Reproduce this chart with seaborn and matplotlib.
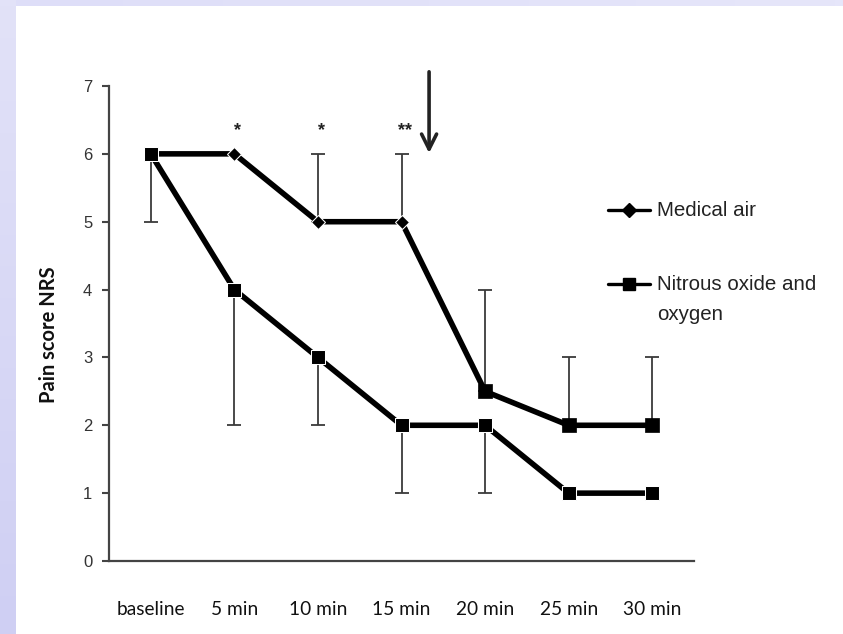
import numpy as np
import pandas as pd
import matplotlib
matplotlib.use("Agg")
import matplotlib.pyplot as plt
from matplotlib.lines import Line2D
import seaborn as sns

# Pain scores (NRS) over time
time_labels = ["baseline", "5 min", "10 min", "15 min", "20 min", "25 min", "30 min"]
medical_air = [6, 6, 5, 5, 2.5, 2, 2]
nitrous_oxide = [6, 4, 3, 2, 2, 1, 1]
# one-sided spread: upward for medical air, downward for nitrous oxide
medical_air_upper = [np.nan, np.nan, 1, 1, 1.5, 1, 1]
nitrous_oxide_lower = [1, 2, 1, 1, 1, np.nan, np.nan]
# significance marks
sig_positions = [1, 2, 3]
sig_marks = ["*", "*", "**"]
sig_height = 6.35

sns.set_theme(style="white")
plt.rcParams["font.family"] = ["Liberation Sans", "DejaVu Sans"]

x = np.arange(len(time_labels))
df = pd.DataFrame({"pos": x, "air": medical_air, "n2o": nitrous_oxide,
                   "air_up": medical_air_upper, "n2o_lo": nitrous_oxide_lower})

fig = plt.figure(figsize=(8.43, 6.34), dpi=100)
fig.patch.set_facecolor("white")

# lavender slide frame along the left and top edges
grad = fig.add_axes([0, 0, 16 / 843, 1], zorder=-5)
grad.imshow(np.linspace(0, 1, 100).reshape(-1, 1), aspect="auto",
            cmap=matplotlib.colors.LinearSegmentedColormap.from_list(
                "lav", ["#e2e2f8", "#cfcff3"]), extent=[0, 1, 0, 1], origin="upper")
grad.axis("off")
top = fig.add_axes([16 / 843, 1 - 6 / 634, 1 - 16 / 843, 6 / 634], zorder=-5)
top.imshow(np.linspace(0, 1, 100).reshape(1, -1), aspect="auto",
           cmap=matplotlib.colors.LinearSegmentedColormap.from_list(
               "lav2", ["#dedef8", "#e6e6fa"]), extent=[0, 1, 0, 1])
top.axis("off")

ax = fig.add_axes([109 / 843, 1 - 561 / 634, 585 / 843, 475 / 634])
ax.set_facecolor("white")

# error bars (behind the lines)
m = ~df["air_up"].isna()
ax.errorbar(df.loc[m, "pos"], df.loc[m, "air"],
            yerr=[np.zeros(m.sum()), df.loc[m, "air_up"]],
            fmt="none", ecolor="#3a3a3a", elinewidth=1.3, capsize=5, capthick=1.3, zorder=1)
m = ~df["n2o_lo"].isna()
ax.errorbar(df.loc[m, "pos"], df.loc[m, "n2o"],
            yerr=[df.loc[m, "n2o_lo"], np.zeros(m.sum())],
            fmt="none", ecolor="#3a3a3a", elinewidth=1.3, capsize=5, capthick=1.3, zorder=1)

sns.lineplot(data=df, x="pos", y="air", ax=ax, color="black", linewidth=4,
             marker="D", markersize=7, markevery=slice(0, 4), zorder=3)
sns.scatterplot(data=df.iloc[4:], x="pos", y="air", ax=ax, color="black",
                marker="s", s=105, edgecolor="black", linewidth=0.5, zorder=4)
sns.lineplot(data=df, x="pos", y="n2o", ax=ax, color="black", linewidth=4,
             marker="s", markersize=10.5, zorder=3)

ax.set_xlim(-0.5, len(time_labels) - 0.5)
ax.set_ylim(0, 7)
ax.set_xticks(x)
ax.set_xticklabels(time_labels, family=["Lato", "DejaVu Sans"], fontsize=13.8, color="#111111")
ax.set_xticks(np.arange(-0.5, len(time_labels)), minor=True)
ax.tick_params(axis="x", which="major", length=0, pad=29)
ax.tick_params(axis="x", which="minor", length=5, width=1.5, color="#444444", direction="out")
ax.set_yticks(range(0, 8))
ax.tick_params(axis="y", length=5, width=1.5, color="#444444", direction="out",
               labelsize=12, labelcolor="#333333", pad=7, left=True)
ax.set_xlabel("")
ax.set_ylabel("Pain score NRS", family=["Lato", "DejaVu Sans"], fontsize=14.5,
              fontweight="bold", color="#111111")
ax.yaxis.set_label_coords(-0.103, 0.476)
ax.yaxis.label.set_va("center")

for s in ["top", "right"]:
    ax.spines[s].set_visible(False)
for s in ["left", "bottom"]:
    ax.spines[s].set_color("#444444")
    ax.spines[s].set_linewidth(1.6)

for p, t in zip(sig_positions, sig_marks):
    ax.text(p + 0.04, sig_height, t, ha="center", va="center", fontsize=13,
            fontweight="bold", color="#222222")

# arrow marking the switch after 15 min
ax.annotate("", xy=(3.33, 5.97), xytext=(3.33, 7.25),
            arrowprops=dict(arrowstyle="->,head_length=0.9,head_width=0.45",
                            color="#222222", lw=2.6), annotation_clip=False)

# legend
tf = fig.transFigure
for yy, mk, ms in [(210, "D", 7), (284, "s", 9)]:
    fig.add_artist(Line2D([608 / 843, 650 / 843], [1 - yy / 634] * 2, transform=tf,
                          color="black", linewidth=2.4))
    fig.add_artist(Line2D([629 / 843], [1 - yy / 634], transform=tf, color="black",
                          marker=mk, markersize=ms, linestyle=""))
fig.text(657 / 843, 1 - 211 / 634, "Medical air", fontsize=14.8, va="center", color="#222222")
fig.text(657 / 843, 1 - 285 / 634, "Nitrous oxide and", fontsize=14.8, va="center", color="#222222")
fig.text(657 / 843, 1 - 314 / 634, "oxygen", fontsize=14.8, va="center", color="#222222")

fig.savefig("out.png", dpi=100, facecolor="white")
